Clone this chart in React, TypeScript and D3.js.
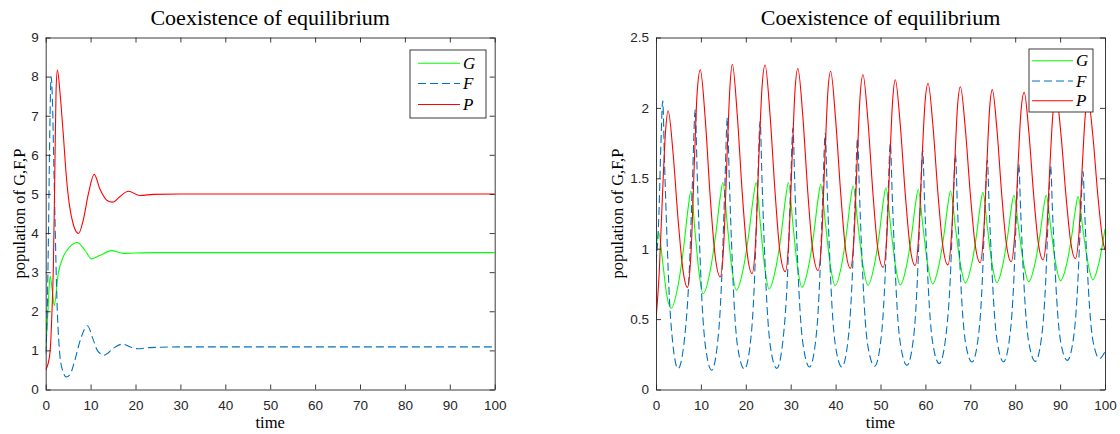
import { useEffect, useRef } from 'react';
import * as d3 from 'd3';

// shared axis ticks
const timeTicks = [0, 10, 20, 30, 40, 50, 60, 70, 80, 90, 100];
const leftYTicks = [0, 1, 2, 3, 4, 5, 6, 7, 8, 9];
const rightYTicks = [0, 0.5, 1, 1.5, 2, 2.5];

const seriesNames = ['G', 'F', 'P'];
const seriesColors = ['#00ff00', '#0072bd', '#ff0000'];

// left panel: trajectories settle to the equilibrium  [time, population]
const leftG = [
  [0, 1.0], [0.5, 2.0], [1.0, 2.9], [1.5, 2.5], [1.9, 2.15], [2.8, 2.97], [3.9, 3.39],
  [5.4, 3.65], [7.0, 3.76], [8.75, 3.56], [10.2, 3.34], [12.1, 3.43], [14.7, 3.55],
  [17.3, 3.48], [20, 3.49], [25, 3.5], [100, 3.5],
];
const leftF = [
  [0, 0.9], [0.3, 1.8], [0.6, 3.8], [0.9, 6.5], [1.2, 8.0], [1.5, 7.4], [1.8, 5.8],
  [2.1, 4.2], [2.5, 2.3], [3.0, 1.1], [3.6, 0.55], [4.6, 0.32], [5.5, 0.4], [6.5, 0.75],
  [7.8, 1.3], [9.3, 1.63], [10.5, 1.3], [11.6, 0.98], [13.1, 0.88], [15.0, 1.05],
  [17.1, 1.16], [19.0, 1.08], [20.5, 1.04], [23, 1.07], [30, 1.09], [100, 1.09],
];
const leftP = [
  [0, 0.5], [0.5, 0.65], [1.0, 1.0], [1.4, 2.0], [1.7, 3.1], [2.0, 5.3], [2.3, 7.6],
  [2.6, 8.17], [3.2, 7.57], [3.9, 6.55], [4.6, 5.44], [5.3, 4.7], [6.2, 4.2], [7.3, 3.99],
  [8.4, 4.35], [9.5, 5.0], [10.8, 5.5], [12.1, 5.12], [13.6, 4.84], [14.9, 4.79],
  [16.5, 4.93], [18.4, 5.07], [21, 4.96], [24, 4.99], [30, 5.0], [100, 5.0],
];

// right panel: sustained oscillations
const rightG = [
  [0, 1.0], [0.6, 1.115], [1.5, 0.9], [2.4, 0.67], [3.4, 0.577],
  [4.94, 0.744], [6.26, 1.035], [7.14, 1.285], [7.8, 1.41], [8.7, 1.118], [9.6, 0.826], [10.5, 0.68],
  [12.04, 0.838], [13.36, 1.115], [14.24, 1.35], [14.9, 1.47], [15.9, 1.164], [16.9, 0.858], [17.9, 0.705],
  [19.44, 0.858], [20.76, 1.126], [21.64, 1.355], [22.3, 1.47], [23.27, 1.168], [24.23, 0.865], [25.2, 0.714],
  [26.7, 0.865], [28.0, 1.13], [28.85, 1.357], [29.5, 1.47], [30.5, 1.172], [31.5, 0.875], [32.5, 0.726],
  [33.97, 0.872], [35.23, 1.128], [36.07, 1.347], [36.7, 1.457], [37.77, 1.169], [38.83, 0.881], [39.9, 0.737],
  [41.3, 0.879], [42.5, 1.126], [43.3, 1.339], [43.9, 1.445], [45.0, 1.163], [46.1, 0.881], [47.2, 0.74],
  [48.6, 0.879], [49.8, 1.121], [50.6, 1.329], [51.2, 1.433], [52.27, 1.156], [53.33, 0.88], [54.4, 0.742],
  [55.8, 0.878], [57.0, 1.115], [57.8, 1.318], [58.4, 1.42], [59.47, 1.152], [60.53, 0.884], [61.6, 0.75],
  [63.0, 0.882], [64.2, 1.113], [65.0, 1.311], [65.6, 1.41], [66.7, 1.149], [67.8, 0.888], [68.9, 0.757],
  [70.27, 0.886], [71.44, 1.111], [72.22, 1.304], [72.8, 1.4], [73.83, 1.144], [74.87, 0.888], [75.9, 0.76],
  [77.23, 0.884], [78.37, 1.101], [79.13, 1.287], [79.7, 1.38], [80.8, 1.134], [81.9, 0.889], [83.0, 0.766],
  [84.37, 0.889], [85.54, 1.104], [86.32, 1.288], [86.9, 1.38], [87.97, 1.137], [89.03, 0.894], [90.1, 0.773],
  [91.47, 0.892], [92.64, 1.101], [93.42, 1.28], [94.0, 1.37], [95.1, 1.134], [96.2, 0.898], [97.3, 0.78],
  [98.65, 0.9], [100, 1.14],
];
const rightF = [
  [0, 0.9], [0.6, 1.2], [1.1, 1.75], [1.5, 2.05],
  [1.9, 1.61], [2.4, 1.12], [3.0, 0.64], [3.75, 0.325], [4.9, 0.148],
  [6.6, 0.44], [7.45, 0.87], [8.1, 1.46], [8.75, 1.99],
  [9.15, 1.56], [9.65, 1.08], [10.25, 0.62], [11.0, 0.31], [12.4, 0.137],
  [13.98, 0.42], [14.7, 0.84], [15.3, 1.41], [15.9, 1.93],
  [16.3, 1.52], [16.8, 1.06], [17.4, 0.61], [18.15, 0.31], [19.7, 0.145],
  [21.3, 0.42], [22.0, 0.83], [22.6, 1.4], [23.2, 1.905],
  [23.6, 1.5], [24.1, 1.045], [24.7, 0.61], [25.45, 0.31], [26.9, 0.15],
  [28.5, 0.42], [29.3, 0.82], [29.9, 1.36], [30.5, 1.857],
  [30.9, 1.47], [31.4, 1.025], [32.0, 0.6], [32.75, 0.32], [34.2, 0.16],
  [35.8, 0.42], [36.5, 0.81], [37.1, 1.34], [37.7, 1.82],
  [38.1, 1.44], [38.6, 1.01], [39.2, 0.59], [39.95, 0.315], [41.4, 0.16],
  [43.0, 0.42], [43.7, 0.79], [44.3, 1.31], [44.9, 1.786],
  [45.3, 1.41], [45.8, 0.99], [46.4, 0.59], [47.15, 0.315], [48.7, 0.165],
  [50.3, 0.415], [51.0, 0.785], [51.6, 1.29], [52.2, 1.75],
  [52.6, 1.39], [53.1, 0.98], [53.7, 0.58], [54.45, 0.32], [55.9, 0.172],
  [57.5, 0.41], [58.2, 0.77], [58.8, 1.26], [59.4, 1.7],
  [59.8, 1.35], [60.3, 0.96], [60.9, 0.58], [61.65, 0.325], [63.1, 0.184],
  [64.7, 0.42], [65.5, 0.76], [66.1, 1.24], [66.7, 1.67],
  [67.1, 1.33], [67.6, 0.95], [68.2, 0.58], [68.95, 0.33], [70.4, 0.195],
  [71.95, 0.42], [72.65, 0.755], [73.2, 1.215], [73.8, 1.63],
  [74.2, 1.3], [74.7, 0.93], [75.3, 0.57], [76.05, 0.33], [77.4, 0.197],
  [78.95, 0.42], [79.65, 0.745], [80.2, 1.19], [80.8, 1.6],
  [81.2, 1.28], [81.7, 0.91], [82.3, 0.56], [83.05, 0.33], [84.5, 0.2],
  [86.05, 0.42], [86.75, 0.74], [87.3, 1.18], [87.9, 1.586],
  [88.3, 1.27], [88.8, 0.91], [89.4, 0.565], [90.15, 0.335], [91.6, 0.207],
  [93.2, 0.42], [93.9, 0.73], [94.5, 1.16], [95.1, 1.55],
  [95.5, 1.24], [96.0, 0.9], [96.6, 0.565], [97.35, 0.34], [98.8, 0.22],
  [100, 0.27],
];
const rightP = [
  [0, 0.5], [0.7, 0.82], [1.4, 1.35], [2.1, 1.82], [2.7, 1.98],
  [3.8, 1.68], [4.9, 1.215], [6.0, 0.85], [7.0, 0.725],
  [7.8, 0.97], [8.55, 1.62], [9.15, 2.1], [9.87, 2.27],
  [10.97, 1.92], [12.07, 1.37], [13.17, 0.95], [14.3, 0.8],
  [15.1, 1.04], [15.85, 1.68], [16.45, 2.14], [17.0, 2.31],
  [18.1, 1.95], [19.2, 1.4], [20.3, 0.97], [21.4, 0.823],
  [22.2, 1.06], [22.95, 1.68], [23.6, 2.14], [24.3, 2.305],
  [25.4, 1.95], [26.5, 1.41], [27.6, 0.98], [28.8, 0.837],
  [29.6, 1.07], [30.35, 1.67], [30.95, 2.12], [31.6, 2.28],
  [32.7, 1.94], [33.8, 1.405], [34.9, 0.99], [36.1, 0.845],
  [36.9, 1.07], [37.65, 1.67], [38.25, 2.1], [38.9, 2.26],
  [40.0, 1.92], [41.1, 1.41], [42.2, 1.0], [43.3, 0.86],
  [44.1, 1.08], [44.85, 1.66], [45.45, 2.08], [46.1, 2.235],
  [47.2, 1.91], [48.3, 1.4], [49.4, 1.0], [50.6, 0.867],
  [51.4, 1.08], [52.1, 1.64], [52.7, 2.05], [53.3, 2.2],
  [54.4, 1.88], [55.5, 1.395], [56.6, 1.01], [57.7, 0.88],
  [58.5, 1.09], [59.25, 1.63], [59.9, 2.03], [60.6, 2.175],
  [61.7, 1.865], [62.8, 1.39], [63.9, 1.015], [65.0, 0.885],
  [65.8, 1.09], [66.55, 1.62], [67.15, 2.01], [67.8, 2.15],
  [68.9, 1.85], [70.0, 1.39], [71.1, 1.025], [72.2, 0.9],
  [72.95, 1.1], [73.7, 1.61], [74.3, 1.995], [74.9, 2.13],
  [75.95, 1.84], [77.0, 1.385], [78.05, 1.03], [79.1, 0.907],
  [79.9, 1.1], [80.65, 1.605], [81.3, 1.98], [82.0, 2.11],
  [83.05, 1.825], [84.1, 1.385], [85.15, 1.04], [86.2, 0.92],
  [87.0, 1.11], [87.75, 1.6], [88.4, 1.96], [89.1, 2.09],
  [90.2, 1.81], [91.3, 1.38], [92.35, 1.05], [93.4, 0.93],
  [94.2, 1.11], [94.95, 1.59], [95.6, 1.945], [96.2, 2.07],
  [97.3, 1.8], [98.4, 1.38], [99.5, 1.06], [100, 0.99],
];

const axisColor = '#262626';
const sans = "'Liberation Sans', Arial, sans-serif";
const serif = "'Liberation Serif', 'Times New Roman', serif";

type Pt = number[];

type PanelProps = {
  id: string;
  left: number;
  yTicks: number[];
  series: Pt[][];
  labelX: number;
  legend: { x: number; y: number; w: number; h: number; rows: number[]; lineX0: number; lineX1: number };
};

const Panel = ({ id, left, yTicks, series, labelX, legend }: PanelProps) => {
  const ref = useRef<SVGGElement>(null);

  useEffect(() => {
    const g = d3.select(ref.current);
    g.selectAll('*').remove();

    const top = 37.5;
    const bottom = 389.5;
    const right = left + 449;

    const x = d3.scaleLinear().domain([0, 100]).range([left, right]);
    const y = d3.scaleLinear().domain([0, d3.max(yTicks) as number]).range([bottom, top]);

    // clip the curves to the plot box
    g.append('clipPath').attr('id', `clip-${id}`)
      .append('rect')
      .attr('x', left).attr('y', top)
      .attr('width', right - left).attr('height', bottom - top);

    const line = d3.line<Pt>()
      .x(d => x(d[0]))
      .y(d => y(d[1]))
      .curve(d3.curveMonotoneX);

    const plot = g.append('g').attr('clip-path', `url(#clip-${id})`);
    series.forEach((s, i) => {
      plot.append('path')
        .datum(s)
        .attr('fill', 'none')
        .attr('stroke', seriesColors[i])
        .attr('stroke-width', 1.1)
        .attr('stroke-dasharray', seriesNames[i] === 'F' ? '8,4' : null)
        .attr('d', line);
    });

    // axes, ticks pointing inward on all four sides
    const styleAxis = (a: any) => {
      a.select('.domain').attr('stroke', axisColor).attr('stroke-width', 0.9);
      a.selectAll('.tick line').attr('stroke', axisColor).attr('stroke-width', 0.9);
      a.selectAll('text').attr('fill', axisColor).attr('font-family', sans).attr('font-size', 13.5);
    };

    g.append('g')
      .attr('transform', `translate(0,${bottom})`)
      .call(d3.axisBottom(x).tickValues(timeTicks).tickSizeInner(-5).tickSizeOuter(0).tickPadding(11))
      .call(styleAxis);

    g.append('g')
      .attr('transform', `translate(0,${top})`)
      .call(d3.axisTop(x).tickValues(timeTicks).tickSizeInner(-5).tickSizeOuter(0).tickFormat(() => ''))
      .call(styleAxis);

    g.append('g')
      .attr('transform', `translate(${left},0)`)
      .call(d3.axisLeft(y).tickValues(yTicks).tickSizeInner(-5).tickSizeOuter(0).tickPadding(7)
        .tickFormat(d => d3.format('')(d as number)))
      .call(styleAxis);

    g.append('g')
      .attr('transform', `translate(${right},0)`)
      .call(d3.axisRight(y).tickValues(yTicks).tickSizeInner(-5).tickSizeOuter(0).tickFormat(() => ''))
      .call(styleAxis);

    // title and axis labels
    g.append('text')
      .attr('x', (left + right) / 2).attr('y', 25)
      .attr('text-anchor', 'middle')
      .attr('font-family', serif).attr('font-size', 22).attr('fill', '#000')
      .text('Coexistence of equilibrium');

    g.append('text')
      .attr('x', (left + right) / 2).attr('y', 428)
      .attr('text-anchor', 'middle')
      .attr('font-family', serif).attr('font-size', 16.5).attr('fill', '#000')
      .text('time');

    g.append('text')
      .attr('transform', `translate(${labelX},${(top + bottom) / 2}) rotate(-90)`)
      .attr('text-anchor', 'middle')
      .attr('font-family', serif).attr('font-size', 16.5).attr('fill', '#000')
      .text('population of G,F,P');

    // legend
    const lg = g.append('g');
    lg.append('rect')
      .attr('x', legend.x).attr('y', legend.y)
      .attr('width', legend.w).attr('height', legend.h)
      .attr('fill', '#fff').attr('stroke', axisColor).attr('stroke-width', 0.9);
    seriesNames.forEach((name, i) => {
      const ry = legend.rows[i];
      lg.append('line')
        .attr('x1', legend.lineX0).attr('x2', legend.lineX1)
        .attr('y1', ry).attr('y2', ry)
        .attr('stroke', seriesColors[i]).attr('stroke-width', 1.1)
        .attr('stroke-dasharray', name === 'F' ? '8,4' : null);
      lg.append('text')
        .attr('x', legend.lineX1 + 3).attr('y', ry + 5.5)
        .attr('font-family', serif).attr('font-style', 'italic').attr('font-size', 17)
        .attr('fill', '#000')
        .text(name);
    });
  }, [id, left, yTicks, series, labelX, legend]);

  return <g ref={ref} />;
};

const leftLegend = { x: 410, y: 50, w: 76, h: 68, rows: [63.3, 83.5, 104.5], lineX0: 418, lineX1: 460 };
const rightLegend = { x: 1029, y: 49, w: 64, h: 63, rows: [60.7, 81, 100.7], lineX0: 1032, lineX1: 1073 };

export default function App() {
  return (
    <svg
      width={1120}
      height={434}
      style={{ position: 'absolute', left: 0, top: 0, background: '#fff' }}
    >
      <Panel id="left" left={45.7} yTicks={leftYTicks} series={[leftG, leftF, leftP]} labelX={25} legend={leftLegend} />
      <Panel id="right" left={656} yTicks={rightYTicks} series={[rightG, rightF, rightP]} labelX={623} legend={rightLegend} />
    </svg>
  );
}
